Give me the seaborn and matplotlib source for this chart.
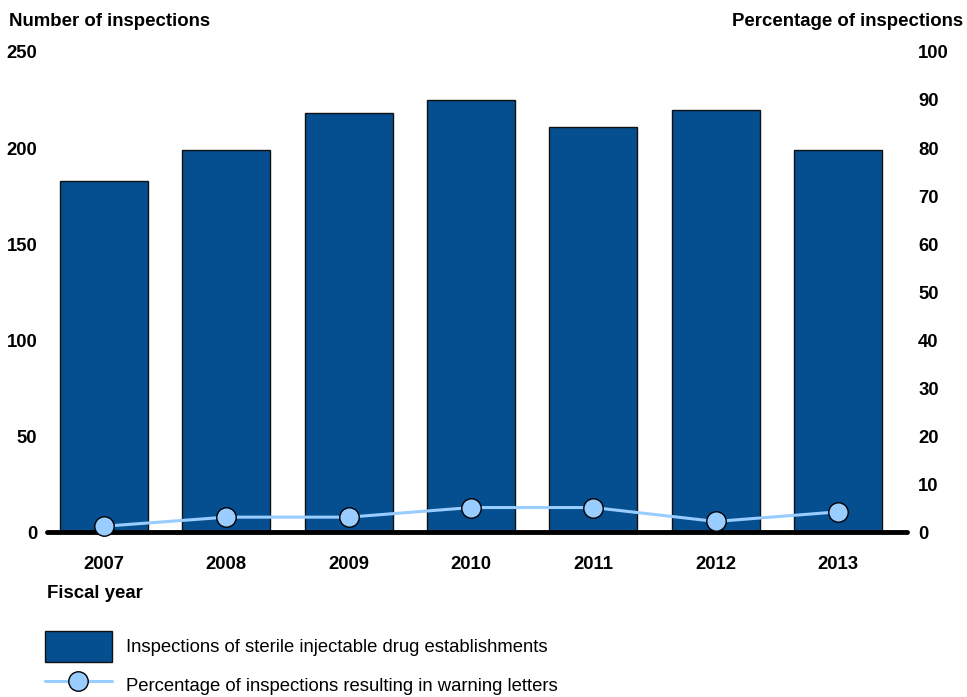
import numpy as np
import pandas as pd
import matplotlib
matplotlib.use("Agg")
import matplotlib.pyplot as plt
import seaborn as sns
from matplotlib.patches import Patch
from matplotlib.lines import Line2D

sns.set_theme(style="white")
plt.rcParams["font.family"] = ["Liberation Sans", "DejaVu Sans"]
plt.rcParams["text.color"] = "black"

years = ["2007", "2008", "2009", "2010", "2011", "2012", "2013"]
inspections = [183, 199, 218, 225, 211, 220, 199]
warning_pct = [1.2, 3.1, 3.1, 5.1, 5.1, 2.2, 4.2]
left_ticks = [0, 50, 100, 150, 200, 250]
right_ticks = [0, 10, 20, 30, 40, 50, 60, 70, 80, 90, 100]

bar_color = "#054F91"
line_color = "#99CCFF"

df = pd.DataFrame({"year": years, "inspections": inspections,
                   "pct": warning_pct, "pos": np.arange(len(years))})

fig = plt.figure(figsize=(9.67, 6.97), dpi=100)
ax = fig.add_axes([0.0486, 0.2367, 0.8894, 0.6887])

xlim = (-0.466, len(years) - 0.436)

sns.barplot(data=df, x="year", y="inspections", color=bar_color,
            saturation=1, width=0.72, edgecolor="#111111", linewidth=1.0, ax=ax)
ax.set_xlim(*xlim)
ax.set_ylim(0, 250)
ax.set_yticks(left_ticks)
ax.set_xlabel("")
ax.set_ylabel("")
ax.axhline(0, color="black", linewidth=3.5, zorder=5, clip_on=False)

ax2 = ax.twinx()
sns.lineplot(data=df, x="pos", y="pct", ax=ax2, color=line_color, linewidth=2.2,
             marker="o", markersize=14, markerfacecolor=line_color,
             markeredgecolor="black", markeredgewidth=1.0, clip_on=False)
ax2.set_ylim(0, 100)
ax2.set_yticks(right_ticks)
ax2.set_xlim(*xlim)
ax2.set_xlabel("")
ax2.set_ylabel("")

for a in (ax, ax2):
    for s in a.spines.values():
        s.set_visible(False)
    a.grid(False)
    a.tick_params(length=0, labelcolor="black")

ax.tick_params(axis="y", pad=7, labelsize=13.3)
ax.tick_params(axis="x", pad=17.5, labelsize=13.3)
ax2.tick_params(axis="y", pad=8, labelsize=13.3)
for lbl in ax.get_xticklabels() + ax.get_yticklabels() + ax2.get_yticklabels():
    lbl.set_fontweight("bold")

fig.text(9 / 967, 1 - 21 / 697, "Number of inspections", fontsize=13.4,
         fontweight="bold", ha="left", va="center", color="black")
fig.text(963 / 967, 1 - 21 / 697, "Percentage of inspections", fontsize=13.4,
         fontweight="bold", ha="right", va="center", color="black")
fig.text(47 / 967, 1 - 593 / 697, "Fiscal year", fontsize=13.4,
         fontweight="bold", ha="left", va="center", color="black")

handles = [
    Patch(facecolor=bar_color, edgecolor="#111111", linewidth=1.0),
    Line2D([], [], color=line_color, linewidth=2.2, marker="o", markersize=14,
           markerfacecolor=line_color, markeredgecolor="black", markeredgewidth=1.0),
]
labels = ["Inspections of sterile injectable drug establishments",
          "Percentage of inspections resulting in warning letters"]
leg = fig.legend(handles, labels, loc="upper left",
                 bbox_to_anchor=(45 / 967, 1 - 631 / 697), frameon=False,
                 fontsize=13.3, handlelength=3.6, handleheight=2.2, handletextpad=0.8,
                 labelspacing=0.45, borderpad=0, borderaxespad=0)
for t in leg.get_texts():
    t.set_color("black")

fig.savefig("out.png", dpi=100)
